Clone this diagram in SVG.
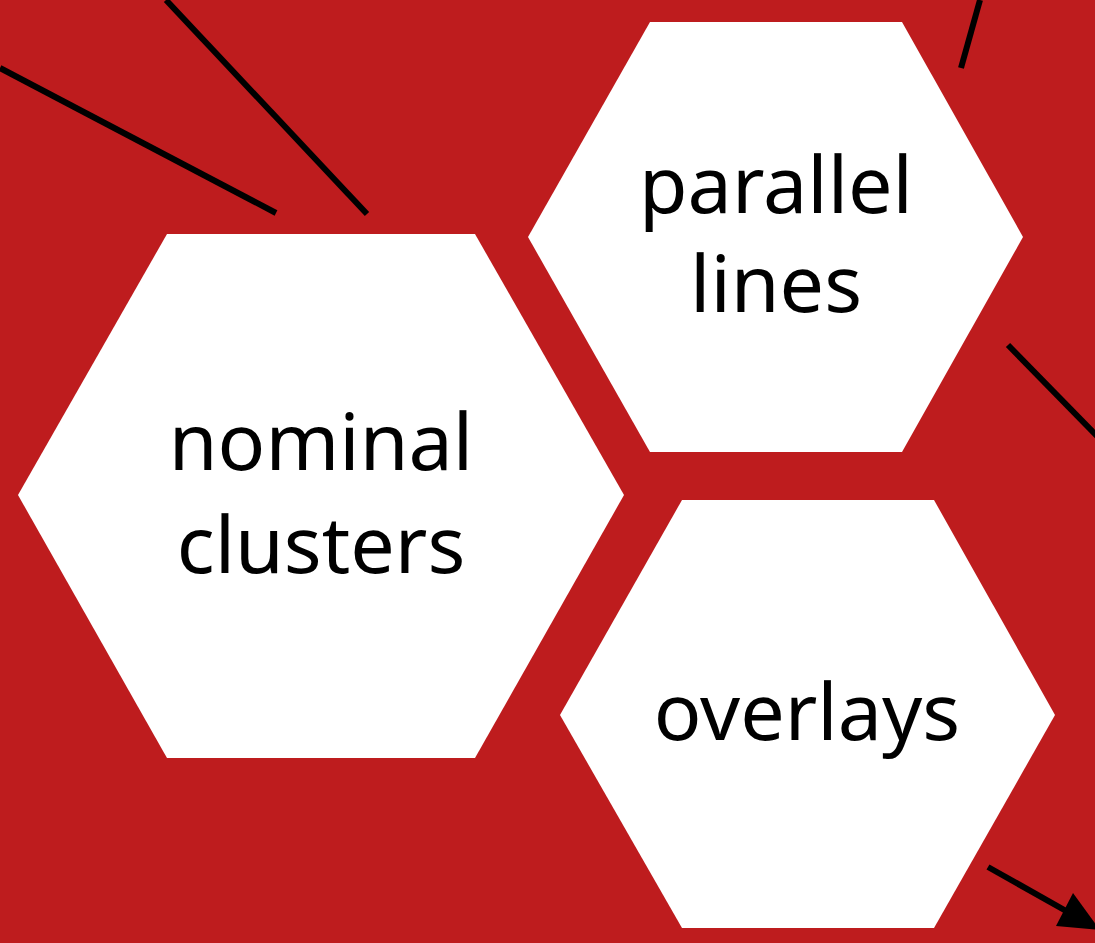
<svg xmlns="http://www.w3.org/2000/svg" width="1095" height="943" viewBox="0 0 1095 943">
<style>
.hex{fill:#ffffff;stroke:none}
.lbl{font-family:"Noto Sans","Open Sans",sans-serif;font-size:79px;fill:#000000;text-anchor:middle}
.ln{stroke:#000000;stroke-width:6;fill:none}
</style>
<rect x="0" y="0" width="1095" height="943" fill="#BE1C1E"/>
<g id="connectors">
<line class="ln" x1="0" y1="68" x2="276" y2="213"/>
<line class="ln" x1="166" y1="0" x2="367" y2="214"/>
<line class="ln" x1="980" y1="0" x2="961" y2="68"/>
<line class="ln" x1="1008" y1="345" x2="1098" y2="437"/>
<line class="ln" x1="988" y1="867" x2="1075" y2="916"/>
<polygon points="1073,893 1056,926 1100,930" fill="#000000"/>
</g>
<g id="node-nominal-clusters">
<polygon class="hex" points="18,495 167,234 475,234 624,495 475,758 167,758"/>
<text class="lbl" x="321" y="470">nominal</text>
<text class="lbl" x="321" y="573">clusters</text>
</g>
<g id="node-parallel-lines">
<polygon class="hex" points="528,237 650,22 902,22 1023,237 902,452 650,452"/>
<text class="lbl" x="776" y="213">parallel</text>
<text class="lbl" x="776" y="312">lines</text>
</g>
<g id="node-overlays">
<polygon class="hex" points="560,715 682,500 934,500 1055,715 934,928 682,928"/>
<text class="lbl" x="807" y="740">overlays</text>
</g>
</svg>
